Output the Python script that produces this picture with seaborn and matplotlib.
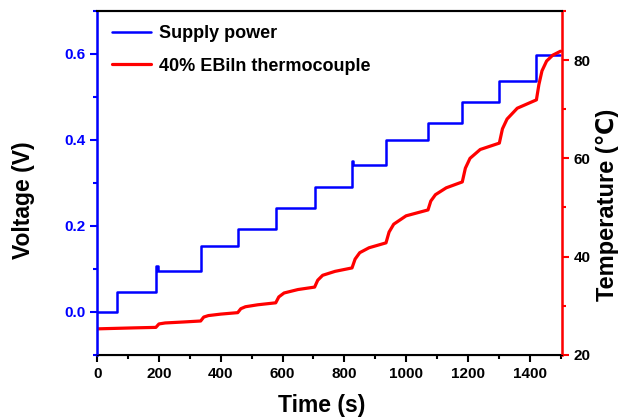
import seaborn as sns
import pandas as pd
import matplotlib.pyplot as plt
from matplotlib.ticker import MultipleLocator

# supply voltage steps (steps-post), small overshoots at 192 s and 825 s
volt_time = [0, 65, 192, 196, 335, 455, 578, 704, 825, 829, 935, 1071, 1182, 1302, 1422, 1497]
volt_vals = [0.0, 0.047, 0.107, 0.095, 0.153, 0.193, 0.242, 0.291, 0.351, 0.342, 0.400, 0.440,
             0.488, 0.537, 0.598, 0.598]

# thermocouple temperature
temp_time = [0, 60, 120, 190, 200, 220, 280, 335, 345, 360, 400, 455, 465, 480, 520, 578,
             588, 605, 650, 704, 714, 730, 770, 825, 835, 850, 880, 935, 945, 960, 1000, 1071,
             1080, 1095, 1130, 1182, 1192, 1207, 1240, 1302, 1312, 1327, 1360, 1422,
             1430, 1440, 1455, 1475, 1500]
temp_vals = [25.3, 25.4, 25.5, 25.6, 26.3, 26.5, 26.7, 26.9, 27.7, 28.0, 28.3, 28.6, 29.4, 29.8, 30.2, 30.6,
             31.8, 32.6, 33.3, 33.8, 35.2, 36.2, 37.0, 37.7, 39.5, 40.8, 41.8, 42.8, 45.0, 46.6, 48.3, 49.5,
             51.3, 52.6, 54.0, 55.2, 58.0, 60.0, 61.8, 63.1, 66.0, 68.0, 70.2, 71.9,
             75.0, 77.8, 79.8, 81.0, 81.8]

sns.set_style("ticks", {'text.color': 'black', 'axes.labelcolor': 'black',
                        'xtick.color': 'black', 'ytick.color': 'black',
                        'axes.edgecolor': 'black'})
plt.rcParams['font.family'] = ['Liberation Sans', 'DejaVu Sans']
plt.rcParams['font.weight'] = 'bold'
plt.rcParams['axes.labelweight'] = 'bold'

df_v = pd.DataFrame({'Time': volt_time, 'Voltage': volt_vals})
df_t = pd.DataFrame({'Time': temp_time, 'Temp': temp_vals})

fig = plt.figure(figsize=(6.19, 4.2), dpi=100)
ax = fig.add_axes([0.157, 0.155, 0.751, 0.819])
ax2 = ax.twinx()

sns.lineplot(data=df_v, x='Time', y='Voltage', ax=ax, color='#0000ff', lw=1.8,
             drawstyle='steps-post', label='Supply power', legend=False)
sns.lineplot(data=df_t, x='Time', y='Temp', ax=ax2, color='#ff0000', lw=2.3,
             label='40% EBiln thermocouple', legend=False)

ax.set_xlim(0, 1505)
ax.set_ylim(-0.1, 0.7)
ax2.set_ylim(20, 90)

ax.xaxis.set_major_locator(MultipleLocator(200))
ax.xaxis.set_minor_locator(MultipleLocator(100))
ax.yaxis.set_major_locator(MultipleLocator(0.2))
ax.yaxis.set_minor_locator(MultipleLocator(0.1))
ax2.yaxis.set_major_locator(MultipleLocator(20))
ax2.yaxis.set_minor_locator(MultipleLocator(10))

ax.set_xlabel('Time (s)', fontsize=16.5, fontweight='bold')
ax.set_ylabel('Voltage (V)', fontsize=16.5, fontweight='bold')
ax2.set_ylabel('Temperature (\u2103)', fontsize=17, fontweight='bold')
ax.xaxis.set_label_coords(0.484, -0.113)
ax.yaxis.set_label_coords(-0.133, 0.45)
ax2.yaxis.set_label_coords(1.072, 0.436)

for s in ['top', 'bottom']:
    ax.spines[s].set_linewidth(1.5)
ax2.spines['left'].set_color('#0000ff')
ax2.spines['left'].set_linewidth(1.8)
ax2.spines['right'].set_color('#ff0000')
ax2.spines['right'].set_linewidth(1.8)
ax2.spines['top'].set_linewidth(1.5)

ax.tick_params(axis='x', which='major', length=5, width=1.5, labelsize=11)
ax.tick_params(axis='x', which='minor', length=3, width=1.5)
ax.tick_params(axis='y', which='both', colors='#0000ff', width=1.5, labelsize=11)
ax.tick_params(axis='y', which='major', length=5)
ax.tick_params(axis='y', which='minor', length=3)
ax2.tick_params(axis='y', which='both', colors='#ff0000', width=1.5, labelsize=11,
                labelcolor='black')
ax2.tick_params(axis='y', which='major', length=5)
ax2.tick_params(axis='y', which='minor', length=3)
for lab in ax.get_xticklabels() + ax.get_yticklabels() + ax2.get_yticklabels():
    lab.set_fontweight('bold')

h1, l1 = ax.get_legend_handles_labels()
h2, l2 = ax2.get_legend_handles_labels()
ax2.legend(h1 + h2, l1 + l2, loc='upper left', frameon=False,
           prop={'size': 13, 'weight': 'bold'}, handlelength=2.2, handletextpad=0.4,
           borderaxespad=0.4, labelspacing=0.85)

plt.savefig('out.png', dpi=100)
